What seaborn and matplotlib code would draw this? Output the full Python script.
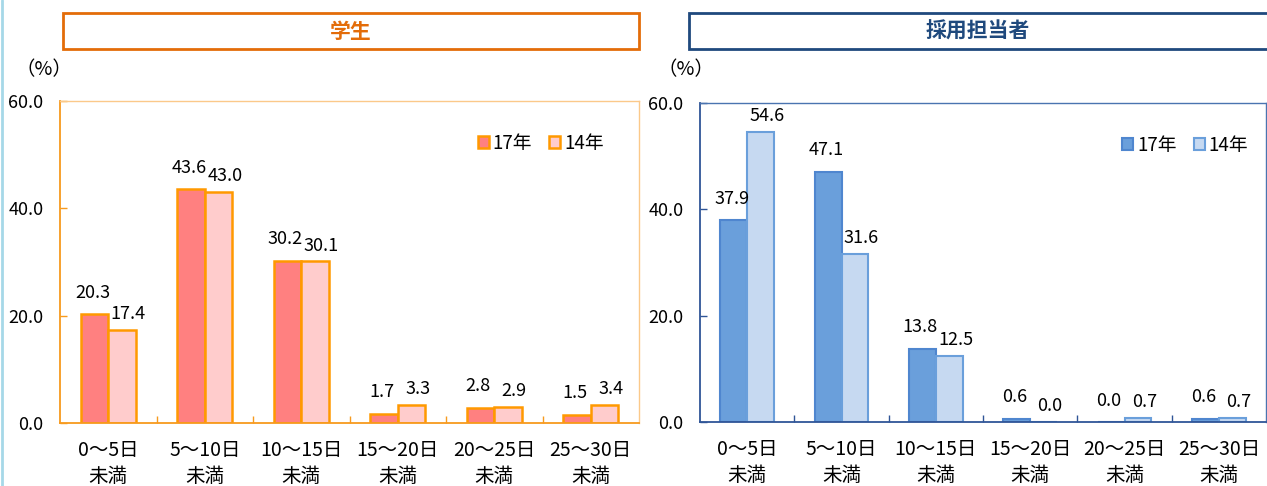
import numpy as np
import pandas as pd
import matplotlib
matplotlib.use("Agg")
import matplotlib.pyplot as plt
import seaborn as sns
from matplotlib.patches import Rectangle, Patch
from matplotlib.lines import Line2D

# ---------------- data ----------------
categories = ["0～5日\n未満", "5～10日\n未満", "10～15日\n未満",
              "15～20日\n未満", "20～25日\n未満", "25～30日\n未満"]
series = ["17年", "14年"]
student_17 = [20.3, 43.6, 30.2, 1.7, 2.8, 1.5]
student_14 = [17.4, 43.0, 30.1, 3.3, 2.9, 3.4]
recruiter_17 = [37.9, 47.1, 13.8, 0.6, 0.0, 0.6]
recruiter_14 = [54.6, 31.6, 12.5, 0.0, 0.7, 0.7]
y_ticks = [0, 20, 40, 60]
titles = ["学生", "採用担当者"]
unit_label = "（%）"

# ---------------- style ----------------
sns.set_theme(style="white")
plt.rcParams["font.family"] = ["Noto Sans CJK JP", "DejaVu Sans"]
plt.rcParams["text.color"] = "black"

W, H = 1267, 486
fig = plt.figure(figsize=(W / 100, H / 100), dpi=100)
fig.patch.set_facecolor("white")

# label placement style per series: (x nudge pt, padding pt)
label_style = [(-1.5, 9), (4.5, 5)]


def px_axes(x0, y0, x1, y1):
    return fig.add_axes([x0 / W, 1 - y1 / H, (x1 - x0) / W, (y1 - y0) / H])


def panel(ax, v17, v14, fills, edges, lw, spine_main, spine_light, leg_anchor):
    df = pd.DataFrame({
        "cat": categories * 2,
        "series": [series[0]] * len(categories) + [series[1]] * len(categories),
        "value": list(v17) + list(v14),
    })
    sns.barplot(data=df, x="cat", y="value", hue="series", order=categories,
                hue_order=series, palette=fills, saturation=1, width=0.57,
                ax=ax, legend=False, linewidth=lw)
    for cont, ec, (dx, pad) in zip(ax.containers, edges, label_style):
        for p in cont:
            p.set_edgecolor(ec)
            p.set_linewidth(lw)
        anns = ax.bar_label(cont, fmt="%.1f", padding=pad, fontsize=13, color="black")
        for a in anns:
            a.xyann = (dx, pad)

    ax.set_xlim(-0.5, len(categories) - 0.5)
    ax.set_ylim(0, 60)
    ax.set_xlabel("")
    ax.set_ylabel("")
    ax.set_yticks(y_ticks)
    ax.set_yticklabels([f"{t:.1f}" for t in y_ticks])
    ax.set_xticks(np.arange(0.5, len(categories) - 0.5, 1), minor=True)
    ax.tick_params(axis="x", which="major", bottom=True, length=0, pad=12,
                   labelsize=14, labelcolor="black")
    ax.tick_params(axis="x", which="minor", bottom=True, direction="in",
                   length=5, width=1, color=spine_main)
    ax.tick_params(axis="y", which="major", left=True, direction="in",
                   length=5, width=1, color=spine_main, pad=12,
                   labelsize=13, labelcolor="black")
    for lab in ax.get_xticklabels():
        lab.set_linespacing(1.35)
    for side in ["left", "bottom"]:
        ax.spines[side].set_color(spine_main)
        ax.spines[side].set_linewidth(1.3)
    for side in ["top", "right"]:
        ax.spines[side].set_color(spine_light)
        ax.spines[side].set_linewidth(1.0)
    ax.grid(False)
    handles = [Patch(facecolor=f, edgecolor=e, linewidth=lw) for f, e in zip(fills, edges)]
    ax.legend(handles, series, loc="upper right", bbox_to_anchor=leg_anchor,
              ncol=2, frameon=False, handlelength=0.6, handleheight=0.6,
              handletextpad=0.2, columnspacing=0.9, borderpad=0,
              fontsize=13.5)


# left panel: students
ax1 = px_axes(60, 101, 639, 423)
panel(ax1, student_17, student_14,
      fills=["#FF8080", "#FFCCCC"], edges=["#FF9900", "#FF9900"], lw=1.8,
      spine_main="#F79A1E", spine_light="#FBC98A", leg_anchor=(0.955, 0.93))

# right panel: recruiters
ax2 = px_axes(700, 103, 1266, 422)
panel(ax2, recruiter_17, recruiter_14,
      fills=["#6A9FDB", "#C6D9F1"], edges=["#4F86CF", "#6A9FDB"], lw=1.5,
      spine_main="#2F5597", spine_light="#4A74B0", leg_anchor=(0.985, 0.93))

# title boxes
fig.add_artist(Rectangle((63 / W, 1 - 49 / H), (639 - 63) / W, 36 / H,
                         transform=fig.transFigure, facecolor="white",
                         edgecolor="#E36C09", linewidth=2))
fig.text((63 + 639) / 2 / W, 1 - 31 / H, titles[0], ha="center", va="center",
         fontsize=15, fontweight="bold", color="#E36C09")
fig.add_artist(Rectangle((689 / W, 1 - 49 / H), (1275 - 689) / W, 36 / H,
                         transform=fig.transFigure, facecolor="white",
                         edgecolor="#1F497D", linewidth=2))
fig.text((689 + 1267) / 2 / W, 1 - 31 / H, titles[1], ha="center", va="center",
         fontsize=15, fontweight="bold", color="#1F497D")

# unit labels
fig.text(44 / W, 1 - 70 / H, unit_label, ha="center", va="center", fontsize=14)
fig.text(686 / W, 1 - 70 / H, unit_label, ha="center", va="center", fontsize=14)

# thin light-blue border at left edge
fig.add_artist(Line2D([1.5 / W, 1.5 / W], [0, 1], transform=fig.transFigure,
                      color="#A6D8E8", linewidth=2))

fig.savefig("out.png", dpi=100, facecolor="white")
